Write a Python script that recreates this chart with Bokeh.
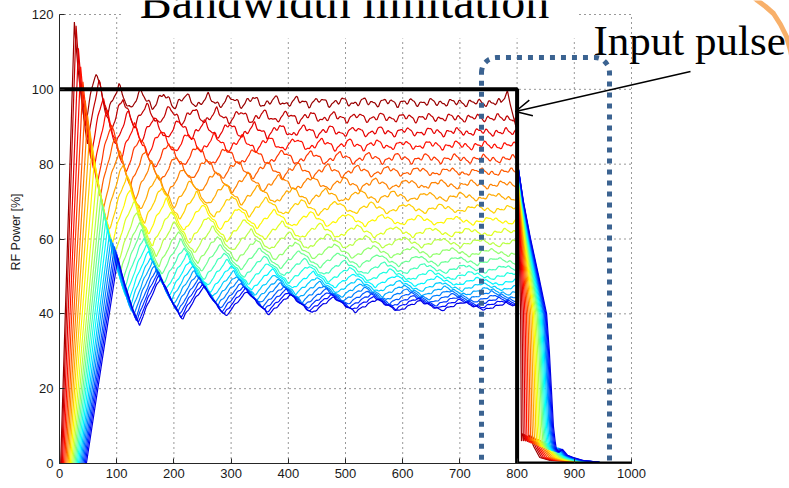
import numpy as np
from bokeh.plotting import figure
from bokeh.models import (Range1d, FixedTicker, Label, Arrow, OpenHead,
                          PolyAnnotation, BoxAnnotation, ColumnDataSource)
from bokeh.embed import file_html
from bokeh.resources import INLINE

# ---------------- data ----------------
x_ticks = [0, 100, 200, 300, 400, 500, 600, 700, 800, 900, 1000]
y_ticks = [0, 20, 40, 60, 80, 100, 120]

# input pulse (black)
pulse_x = [0, 800, 800, 1000]
pulse_y = [100, 100, 0, 0]

# one entry per output trace, top (dark red) to bottom (blue)
levels      = [96.3, 92.2, 88.4, 84.8, 81.2, 77.7, 74.3, 71.0, 67.8, 64.6, 61.5, 58.7,
               56.1, 53.8, 51.7, 49.9, 48.3, 46.9, 45.7, 44.7, 43.8, 43.0, 42.3, 41.7]
onset_x     = [2, 3.5, 5, 7, 9, 11, 13, 15, 17, 19, 21, 23,
               25, 27, 29, 31, 33, 35, 37, 39, 41, 43, 45, 47]
peak_x      = [26, 29, 33, 37, 41, 45, 49, 53, 57, 61, 65, 69,
               72, 75, 78, 81, 84, 87, 90, 93, 96, 98, 100, 102]
peak_y      = [118, 117, 111, 106, 102, 97, 93, 89, 85, 81, 77, 74,
               71, 69, 67, 65, 63, 61, 60, 59, 58, 57, 56, 55]
ring_period = [39, 41, 44, 47, 50, 53, 56, 59, 61, 63, 65, 66.5,
               68, 69, 70, 71, 72, 72.5, 73, 73.5, 74, 74.5, 75, 75.5]
late_amp    = [3.0, 3.5, 4.0, 4.4, 4.8, 5.0, 5.2, 5.4, 5.5, 5.6, 5.7, 5.8,
               5.9, 6.0, 6.0, 6.0, 6.0, 6.0, 6.0, 6.0, 6.0, 6.0, 6.0, 6.0]
ripple_amp  = [0.9, 0.9, 0.85, 0.8, 0.75, 0.7, 0.65, 0.6, 0.55, 0.5, 0.5, 0.45,
               0.45, 0.4, 0.4, 0.4, 0.35, 0.35, 0.35, 0.35, 0.3, 0.3, 0.3, 0.3]
fall_span   = [6, 9, 12, 15, 18, 21, 24, 27, 30, 32.5, 35, 37.5,
               40, 42, 44, 46, 48, 50, 52, 53.5, 55, 56.5, 58, 59.5]
hump_y      = [8, 7.8, 7.5, 7.2, 7, 6.8, 6.5, 6.2, 6, 5.8, 5.6, 5.4,
               5.2, 5, 4.9, 4.8, 4.6, 4.5, 4.4, 4.3, 4.2, 4.1, 4, 4]

# shape of the decay after the input switches off
fall_profile_y    = [80, 70, 60, 50, 40, 30, 20, 10, 6]
fall_profile_frac = [0, 0.17, 0.38, 0.62, 0.85, 0.93, 0.99, 1.05, 1.1]

# spike of the top trace just before the pulse end
top_spike_x = [772, 778, 783, 788, 793, 798]
top_spike_y = [96.5, 97.5, 99.7, 96.0, 93.0, 90.0]

# ---------------- geometry of the page ----------------
W, H = 789, 488
LEFT, BOTTOM = 59, 25
SX = 572 / 1000.0                 # px per x unit
SY = 449 / 120.0                  # px per y unit
XMAX = (W - LEFT) / SX            # frame runs to the right edge of the page
YMAX = (H - BOTTOM) / SY          # ... and to the top edge


def dx(px):
    return (px - LEFT) / SX


def dy(py):
    return (H - BOTTOM - py) / SY


def jet(v):
    r = min(max(1.5 - abs(4 * v - 3), 0), 1)
    g = min(max(1.5 - abs(4 * v - 2), 0), 1)
    b = min(max(1.5 - abs(4 * v - 1), 0), 1)
    return "#%02x%02x%02x" % (int(r * 255), int(g * 255), int(b * 255))


N = len(levels)
xs_all, ys_all, cols = [], [], []
for k in range(N):
    L, s, tp, pk = levels[k], onset_x[k], peak_x[k], peak_y[k]
    P, G = ring_period[k], late_amp[k]
    E = max((pk - L) / 1.35 - G, 0.0)
    xr = np.arange(tp, 798.0, 2.0)
    dt = xr - tp
    A = E * np.exp(-dt / (0.8 * P)) + G * np.exp(-dt / 350.0)
    ph = dt / P
    tri = 1 - 4 * np.abs(((ph + 0.5) % 1.0) - 0.5)
    phi = 0.9 * k
    rip = ripple_amp[k] * np.minimum(1.0, dt / 40.0) * (
        0.7 * np.sin(2 * np.pi * xr / 17.0 + phi) + 0.3 * np.sin(2 * np.pi * xr / 8.6 + 2 * phi))
    yr = L + A * (tri + 0.35) + rip
    xr = list(xr)
    yr = list(yr)
    if k == 0:
        keep = [i for i, v in enumerate(xr) if v < top_spike_x[0]]
        xr = [xr[i] for i in keep] + top_spike_x
        yr = [yr[i] for i in keep] + top_spike_y
    x = [0, s] + xr
    y = [0, 0] + yr
    span = fall_span[k]
    x += [800.5] + [801 + span * f for f in fall_profile_frac]
    y += [yr[-1]] + fall_profile_y
    xe = 801 + span * fall_profile_frac[-1]
    h = hump_y[k]
    x += [xe + 2, xe + 7, xe + 13, xe + 22, xe + 32, xe + 50, 942, 948, 1000]
    y += [h, 0.75 * h, 0.95 * h, 0.55 * h, 1.6, 0.8, 0.4, 0.0, 0.0]
    xs_all.append(x)
    ys_all.append(y)
    cols.append(jet(0.975 - k * (0.975 - 0.1) / (N - 1)))

src = ColumnDataSource(dict(xs=xs_all, ys=ys_all, color=cols))

p = figure(width=W, height=H, x_range=Range1d(0, XMAX), y_range=Range1d(0, YMAX),
           output_backend="svg", toolbar_location=None,
           min_border_left=LEFT, min_border_right=0,
           min_border_top=0, min_border_bottom=BOTTOM)
p.outline_line_color = None
p.background_fill_color = "white"
p.border_fill_color = "white"
p.xgrid.visible = False
p.ygrid.visible = False

p.xaxis.ticker = FixedTicker(ticks=x_ticks)
p.yaxis.ticker = FixedTicker(ticks=y_ticks)
p.xaxis.bounds = (0, 1000)
p.yaxis.bounds = (0, 120)
for ax in (p.xaxis[0], p.yaxis[0]):
    ax.major_tick_in = 5
    ax.major_tick_out = 0
    ax.minor_tick_in = 0
    ax.minor_tick_out = 0
    ax.axis_line_color = "#262626"
    ax.major_tick_line_color = "#262626"
    ax.major_label_text_font = "Liberation Sans"
    ax.major_label_text_font_size = "13px"
    ax.major_label_text_color = "#1a1a1a"
p.xaxis.major_label_standoff = 5
p.yaxis.major_label_standoff = 6
p.yaxis.axis_label = "RF Power [%]"
p.yaxis.axis_label_text_font = "Liberation Sans"
p.yaxis.axis_label_text_font_size = "12.5px"
p.yaxis.axis_label_text_font_style = "normal"
p.yaxis.axis_label_text_color = "#1a1a1a"
p.yaxis.axis_label_standoff = 6

# dotted grid limited to the axes box
grid_xs = [[t, t] for t in x_ticks[1:]] + [[0, 1000] for t in y_ticks[1:]]
grid_ys = [[0, 120] for t in x_ticks[1:]] + [[t, t] for t in y_ticks[1:]]
p.multi_line(grid_xs, grid_ys, line_color="#333333", line_width=1, line_dash="1 4")

p.multi_line(xs="xs", ys="ys", line_color="color", line_width=1.2, source=src)
p.line(pulse_x, pulse_y, line_color="black", line_width=4)

# white box behind the title (hides grid)
p.add_layout(BoxAnnotation(left=dx(122), right=dx(578), bottom=dy(38), top=dy(-10),
                           fill_color="white", fill_alpha=1.0, line_alpha=0))
p.add_layout(Label(x=dx(344), y=dy(1), text="Bandwidth limitation",
                   text_font="Liberation Serif", text_font_size="48px",
                   text_align="center", text_baseline="alphabetic", text_color="black"))
p.add_layout(Label(x=dx(593), y=dy(39.5), text="Input pulse",
                   text_font="Liberation Serif", text_font_size="43px",
                   text_align="left", text_baseline="alphabetic", text_color="black"))
p.add_layout(Arrow(end=OpenHead(size=16, line_width=1.5, line_color="black"),
                   x_start=dx(690), y_start=dy(71), x_end=dx(515), y_end=dy(111),
                   line_width=1.5, line_color="black"))

# dotted rounded rectangle
l, r, t, b, rad = 481, 609, 57, 493, 15
pts = []
def arc(cx, cy, a0, a1):
    for a in np.linspace(np.radians(a0), np.radians(a1), 10):
        pts.append((cx + rad * np.cos(a), cy + rad * np.sin(a)))
arc(l + rad, t + rad, 180, 270)
arc(r - rad, t + rad, 270, 360)
arc(r - rad, b - rad, 0, 90)
arc(l + rad, b - rad, 90, 180)
p.add_layout(PolyAnnotation(xs=[dx(a) for a, _ in pts], ys=[dy(c) for _, c in pts],
                            fill_alpha=0, line_color="#3b6391", line_alpha=1.0, line_width=5,
                            line_dash="5 6", line_cap="butt"))

# orange arc at the top right
arc_px = [(750, -6), (757, 0), (765, 6), (773, 13), (780, 24), (786, 36), (790, 50), (793, 65),
          (800, 65), (800, -10), (750, -10)]
p.add_layout(PolyAnnotation(xs=[dx(a) for a, _ in arc_px], ys=[dy(c) for _, c in arc_px],
                            fill_alpha=0, line_color="#f8b06a", line_alpha=1.0, line_width=5,
                            line_join="round"))

open("out.html", "w").write(file_html(p, INLINE))
